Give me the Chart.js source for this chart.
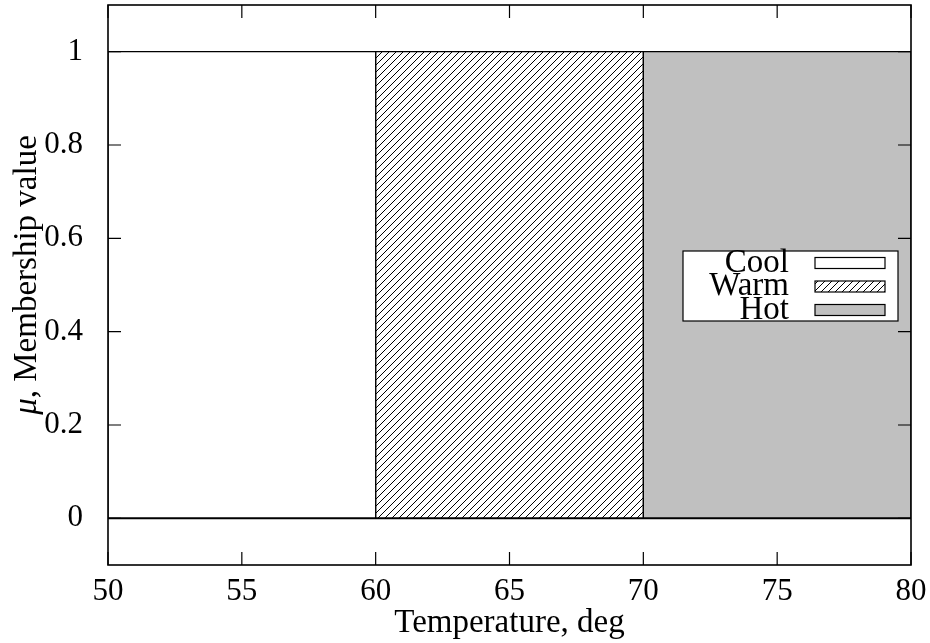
<!DOCTYPE html>
<html>
<head>
<meta charset="utf-8">
<script src="https://cdn.jsdelivr.net/npm/chart.js@4"></script>
<style>
  html, body { margin: 0; padding: 0; background: #fff; }
  #wrap { width: 930px; height: 643px; }
</style>
</head>
<body>
<div id="wrap"><canvas id="chart"></canvas></div>
<script>
var categories = ["Cool", "Warm", "Hot"];
var xStart = [50, 60, 70];
var xEnd = [60, 70, 80];
var membership = [1, 1, 1];
var xTicks = [50, 55, 60, 65, 70, 75, 80];
var yTicks = [0, 0.2, 0.4, 0.6, 0.8, 1];
var font = "'Liberation Serif', serif";
var gray = "#c0c0c0";

// hatch for Warm
function hatch() {
  let c = document.createElement("canvas");
  c.width = 7;
  c.height = 7;
  let g = c.getContext("2d");
  g.strokeStyle = "#000";
  g.lineWidth = 1;
  g.beginPath();
  g.moveTo(-1, 8); g.lineTo(8, -1);
  g.moveTo(-8, 8); g.lineTo(1, -1);
  g.moveTo(6, 8); g.lineTo(15, -1);
  g.stroke();
  return g.createPattern(c, "repeat");
}

var fills = ["#ffffff", hatch(), gray];

var datasets = categories.map((name, i) => ({
  label: name,
  data: [
    { x: xStart[i], y: 0 },
    { x: xStart[i], y: membership[i] },
    { x: xEnd[i], y: membership[i] },
    { x: xEnd[i], y: 0 },
  ],
  fill: "origin",
  backgroundColor: fills[i],
  borderColor: "#000",
  borderWidth: 1.2,
  pointRadius: 0,
  tension: 0,
}));

function noPad(s) {
  s.paddingTop = 0;
  s.paddingBottom = 0;
  s.paddingLeft = 0;
  s.paddingRight = 0;
}

// frame, inward ticks, y title, legend
var decor = {
  id: "decor",
  afterDatasetsDraw(chart) {
    let ctx = chart.ctx;
    let a = chart.chartArea;
    let xs = chart.scales.x;
    let ys = chart.scales.y;
    ctx.save();

    // zero line
    ctx.strokeStyle = "#000";
    ctx.lineWidth = 2;
    ctx.beginPath();
    ctx.moveTo(a.left, ys.getPixelForValue(0));
    ctx.lineTo(a.right, ys.getPixelForValue(0));
    ctx.stroke();

    ctx.lineWidth = 1.2;
    ctx.beginPath();
    for (let v of xTicks) {
      let p = xs.getPixelForValue(v);
      ctx.moveTo(p, a.bottom); ctx.lineTo(p, a.bottom - 13);
      ctx.moveTo(p, a.top); ctx.lineTo(p, a.top + 13);
    }
    for (let v of yTicks) {
      let p = ys.getPixelForValue(v);
      ctx.moveTo(a.left, p); ctx.lineTo(a.left + 13, p);
      ctx.moveTo(a.right, p); ctx.lineTo(a.right - 13, p);
    }
    ctx.stroke();

    ctx.lineWidth = 1.6;
    ctx.strokeRect(a.left, a.top, a.right - a.left, a.bottom - a.top);

    // y title
    ctx.fillStyle = "#000";
    ctx.translate(27, 275);
    ctx.rotate(-Math.PI / 2);
    ctx.textBaseline = "middle";
    ctx.font = "italic 33px " + font;
    let mu = "\u03bc";
    let rest = ", Membership value";
    let w1 = ctx.measureText(mu).width;
    ctx.font = "33px " + font;
    let w2 = ctx.measureText(rest).width;
    ctx.textAlign = "left";
    ctx.font = "italic 33px " + font;
    ctx.fillText(mu, -(w1 + w2) / 2, 0);
    ctx.font = "33px " + font;
    ctx.fillText(rest, -(w1 + w2) / 2 + w1, 0);
    ctx.setTransform(1, 0, 0, 1, 0, 0);

    // legend
    ctx.fillStyle = "#fff";
    ctx.fillRect(683, 251, 215, 70);
    ctx.lineWidth = 1.2;
    ctx.strokeStyle = "#000";
    ctx.strokeRect(683, 251, 215, 70);
    ctx.font = "33px " + font;
    ctx.textAlign = "right";
    ctx.textBaseline = "middle";
    for (let i = 0; i < categories.length; i++) {
      let y = 263 + i * 23.5;
      ctx.fillStyle = "#000";
      ctx.fillText(categories[i], 789, y);
      ctx.fillStyle = fills[i];
      ctx.fillRect(815, y - 5.5, 70, 11);
      ctx.strokeRect(815, y - 5.5, 70, 11);
    }
    ctx.restore();
  },
};

new Chart(document.getElementById("chart"), {
  type: "line",
  data: { datasets },
  plugins: [decor],
  options: {
    responsive: true,
    maintainAspectRatio: false,
    animation: false,
    layout: { padding: { left: 0, right: 19, top: 5, bottom: 0 } },
    plugins: { legend: { display: false }, tooltip: { enabled: false } },
    scales: {
      x: {
        type: "linear",
        min: 50,
        max: 80,
        afterBuildTicks: (s) => { s.ticks = xTicks.map((v) => ({ value: v })); },
        afterFit: (s) => { s.height = 78; noPad(s); },
        grid: { display: false, drawTicks: false },
        border: { display: false },
        ticks: { color: "#000", padding: 8, font: { family: font, size: 31 } },
        title: {
          display: true,
          text: "Temperature, deg",
          color: "#000",
          padding: { top: 0, bottom: 0 },
          font: { family: font, size: 33 },
        },
      },
      y: {
        type: "linear",
        min: -0.1,
        max: 1.1,
        afterBuildTicks: (s) => { s.ticks = yTicks.map((v) => ({ value: v })); },
        afterFit: (s) => { s.width = 108; noPad(s); },
        grid: { display: false, drawTicks: false },
        border: { display: false },
        ticks: { color: "#000", padding: 25, font: { family: font, size: 31 }, callback: (v) => String(v) },
      },
    },
  },
});
</script>
</body>
</html>
